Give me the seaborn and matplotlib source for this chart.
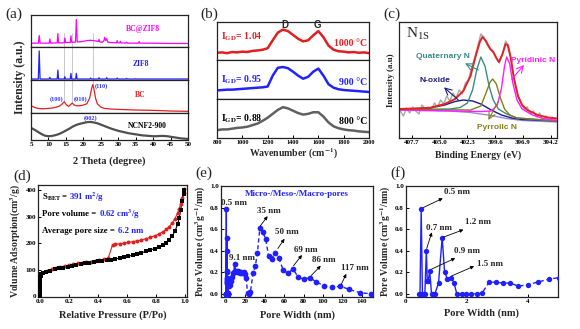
import matplotlib
matplotlib.use("Agg")
import matplotlib.pyplot as plt
import seaborn as sns

# ---------------- (a) XRD (intensity normalised inside each stacked band) ----------------
ncnf_x = [5, 6, 7, 8, 9, 10, 11, 12, 13, 14, 15, 16, 17, 18, 19, 20, 21, 22, 23, 24, 25, 26, 27,
          28, 29, 30, 31, 32, 33, 34, 35, 36, 37, 38, 39, 40, 41, 42, 43, 44, 45, 46, 47, 48, 49, 50]
ncnf_y = [0.45, 0.38, 0.30, 0.22, 0.16, 0.14, 0.15, 0.18, 0.22, 0.28, 0.35, 0.42, 0.50, 0.56, 0.60,
          0.63, 0.66, 0.67, 0.65, 0.62, 0.57, 0.52, 0.47, 0.42, 0.38, 0.34, 0.31, 0.28, 0.25, 0.23,
          0.21, 0.19, 0.17, 0.16, 0.15, 0.14, 0.14, 0.15, 0.15, 0.14, 0.12, 0.10, 0.08, 0.06, 0.05, 0.04]
bc_x = [5, 6, 7, 8, 9, 10, 11, 12, 13, 13.8, 14.5, 15.2, 15.8, 16.3, 16.8, 17.4, 18, 19, 20, 21,
        21.8, 22.4, 22.7, 23.0, 23.5, 24, 25, 26, 28, 30, 35, 40, 45, 50]
bc_y = [0.22, 0.17, 0.14, 0.13, 0.13, 0.14, 0.15, 0.17, 0.20, 0.26, 0.34, 0.24, 0.20, 0.25, 0.30,
        0.24, 0.22, 0.22, 0.24, 0.28, 0.45, 0.75, 0.86, 0.75, 0.45, 0.28, 0.18, 0.14, 0.12, 0.11,
        0.09, 0.08, 0.06, 0.05]
zif_x = [5, 7.1, 7.35, 7.6, 10.2, 10.4, 10.6, 12.5, 12.7, 12.9, 14.5, 14.7, 14.9, 16.25, 16.45,
         16.65, 17.8, 18.0, 18.2, 21.9, 22.1, 22.3, 24.3, 24.5, 24.7, 26.5, 26.7, 26.9, 29.5, 29.7,
         29.9, 32.2, 32.4, 32.6, 34.8, 35.0, 35.2, 50]
zif_y = [0.03, 0.03, 0.88, 0.03, 0.03, 0.08, 0.03, 0.03, 0.30, 0.03, 0.03, 0.10, 0.03, 0.03, 0.20,
         0.03, 0.03, 0.20, 0.03, 0.03, 0.06, 0.03, 0.03, 0.07, 0.03, 0.03, 0.07, 0.03, 0.03, 0.06,
         0.03, 0.03, 0.05, 0.03, 0.03, 0.04, 0.03, 0.03]
bz_x = [5, 7.1, 7.35, 7.6, 10.2, 10.4, 10.6, 12.5, 12.7, 12.9, 14.5, 14.7, 14.9, 16.25, 16.45,
        16.65, 17.75, 18.0, 18.25, 19, 20, 21, 22, 23, 24.3, 24.5, 24.7, 25.5, 25.9, 26.1, 26.4,
        26.7, 27.0, 28, 29.5, 29.7, 29.9, 30.4, 30.6, 30.8, 32.2, 32.4, 32.6, 35.8, 36.0, 36.2,
        40, 45, 50]
bz_y = [0.12, 0.12, 0.36, 0.12, 0.12, 0.25, 0.12, 0.13, 0.42, 0.13, 0.13, 0.28, 0.14, 0.14, 0.35,
        0.15, 0.15, 0.86, 0.16, 0.16, 0.18, 0.20, 0.21, 0.20, 0.17, 0.24, 0.16, 0.15, 0.20, 0.30,
        0.20, 0.26, 0.15, 0.14, 0.13, 0.20, 0.13, 0.13, 0.18, 0.13, 0.12, 0.15, 0.12, 0.12, 0.17,
        0.12, 0.12, 0.11, 0.11]
xrd_labels = ["BC@ZIF8", "ZIF8", "BC", "NCNF2-900"]
xrd_ticks = [5, 10, 15, 20, 25, 30, 35, 40, 45, 50]

# ---------------- (b) Raman ----------------
raman_x = [800, 840, 880, 920, 960, 1000, 1040, 1080, 1120, 1160, 1200, 1240, 1280, 1320, 1360,
           1400, 1440, 1480, 1520, 1560, 1600, 1640, 1680, 1720, 1760, 1800, 1840, 1880, 1920,
           1960, 2000]
raman_1000 = [0.19, 0.20, 0.18, 0.21, 0.20, 0.22, 0.21, 0.24, 0.25, 0.27, 0.31, 0.52, 0.72, 0.80,
              0.76, 0.66, 0.56, 0.49, 0.52, 0.65, 0.76, 0.60, 0.38, 0.27, 0.23, 0.22, 0.20, 0.21,
              0.19, 0.20, 0.18]
raman_900 = [0.22, 0.23, 0.24, 0.24, 0.25, 0.26, 0.27, 0.28, 0.29, 0.30, 0.32, 0.60, 0.80, 0.82,
             0.79, 0.70, 0.60, 0.52, 0.57, 0.70, 0.78, 0.60, 0.38, 0.29, 0.25, 0.23, 0.22, 0.21,
             0.20, 0.19, 0.18]
raman_800 = [0.20, 0.22, 0.22, 0.24, 0.26, 0.27, 0.29, 0.33, 0.37, 0.44, 0.52, 0.62, 0.72, 0.79,
             0.76, 0.70, 0.64, 0.60, 0.62, 0.66, 0.66, 0.55, 0.40, 0.30, 0.25, 0.22, 0.20, 0.19,
             0.17, 0.16, 0.15]
raman_ticks = [800, 1000, 1200, 1400, 1600, 1800, 2000]

# ---------------- (c) XPS N1s ----------------
xps_raw_x = [408.8, 408.5, 408.2, 407.9, 407.6, 407.3, 407.0, 406.7, 406.4, 406.1, 405.8, 405.5,
             405.2, 404.9, 404.6, 404.3, 404.0, 403.7, 403.4, 403.1, 402.8, 402.5, 402.2, 401.9,
             401.6, 401.3, 401.0, 400.7, 400.4, 400.1, 399.8, 399.5, 399.2, 398.9, 398.6, 398.3,
             398.0, 397.7, 397.4, 397.1, 396.8, 396.5, 396.2, 395.9, 395.6, 395.3, 395.0, 394.7,
             394.4, 394.1, 393.8]
xps_raw_y = [27, 22, 30, 25, 31, 27, 24, 33, 29, 31, 28, 35, 31, 38, 34, 42, 37, 45, 40, 48, 44, 55,
             58, 70, 80, 92, 104, 101, 93, 90, 87, 80, 75, 84, 97, 92, 74, 55, 42, 35, 29, 31, 24,
             27, 21, 25, 18, 22, 17, 21, 18]
env_x = [408.9, 406.0, 404.5, 403.5, 402.7, 402.0, 401.5, 401.1, 400.85, 400.5, 400.1, 399.8, 399.5,
         399.25, 398.9, 398.6, 398.4, 398.1, 397.8, 397.4, 397.0, 396.5, 395.5, 394.5, 393.6]
env_y = [29, 30, 34, 39, 47, 62, 82, 96, 101, 97, 89, 86, 80, 76, 84, 94, 93, 80, 60, 42, 33, 28, 23,
         20.5, 19.5]
bg_x = [408.9, 404.0, 402.0, 400.0, 398.5, 397.0, 393.6]
bg_y = [28.0, 27.0, 25.5, 22.5, 19.5, 17.5, 16.0]
nox_x = [408.9, 406.0, 404.5, 403.5, 402.7, 401.8, 401.0, 400.0, 399.0, 398.0, 397.0, 393.6]
nox_y = [28.7, 30, 33, 36.5, 38, 37, 34, 28, 23, 20, 18.5, 17]
quat_x = [408.9, 404.0, 403.0, 402.3, 401.8, 401.4, 401.0, 400.6, 400.2, 399.8, 399.3, 398.5, 397.5,
          393.6]
quat_y = [28.5, 29, 30.5, 35, 48, 68, 81, 72, 52, 38, 29, 24, 20, 17]
pyrr_x = [408.9, 402.0, 401.0, 400.5, 400.1, 399.85, 399.5, 399.1, 398.7, 398.2, 397.5, 393.6]
pyrr_y = [28.5, 28, 32, 45, 56, 59, 54, 40, 29, 23, 20, 17]
pyri_x = [408.9, 401.0, 400.0, 399.4, 399.0, 398.7, 398.5, 398.2, 397.9, 397.5, 397.0, 396.0, 395.0,
          393.6]
pyri_y = [28, 26.5, 27, 33, 50, 72, 81, 74, 55, 38, 29, 23, 19.5, 17.5]
xps_ticks = [407.7, 405.0, 402.3, 399.6, 396.9, 394.2]

# ---------------- (d) N2 isotherm ----------------
ads_p = [0.002, 0.002, 0.002, 0.002, 0.002, 0.002, 0.002, 0.002, 0.003, 0.004, 0.006, 0.01, 0.02,
         0.04, 0.07, 0.10, 0.13, 0.16, 0.19, 0.22, 0.25, 0.28, 0.31, 0.34, 0.37, 0.40, 0.43, 0.46,
         0.49, 0.52, 0.55, 0.58, 0.61, 0.64, 0.67, 0.70, 0.73, 0.76, 0.79, 0.82, 0.85, 0.87, 0.89,
         0.91, 0.93, 0.95, 0.96, 0.97, 0.98, 0.99, 0.995]
ads_v = [0, 10, 20, 30, 40, 50, 60, 68, 74, 78, 81, 84, 88, 92, 97, 101, 105, 108, 112, 115, 118,
         121, 124, 127, 130, 132, 134, 136, 138, 141, 144, 147, 151, 155, 159, 164, 169, 174, 180,
         187, 195, 202, 212, 226, 245, 272, 295, 325, 358, 385, 403]
des_p = [0.995, 0.99, 0.98, 0.97, 0.96, 0.95, 0.93, 0.91, 0.89, 0.87, 0.85, 0.82, 0.79, 0.76, 0.73,
         0.70, 0.67, 0.64, 0.61, 0.58, 0.55, 0.52, 0.50, 0.47, 0.44, 0.41, 0.38, 0.35, 0.32, 0.29,
         0.26, 0.23, 0.20, 0.17, 0.14, 0.11, 0.08, 0.05]
des_v = [405, 390, 370, 348, 330, 315, 292, 275, 262, 252, 244, 235, 228, 222, 217, 213, 209, 206,
         203, 200, 198, 196, 194, 143, 139, 136, 133, 131, 129, 127, 124, 121, 118, 114, 111, 107,
         103, 97]

# ---------------- (e)/(f) pore size distribution ----------------
f_width = [0.42, 0.46, 0.50, 0.54, 0.58, 0.62, 0.67, 0.70, 0.73, 0.78, 0.84, 0.89, 0.95, 1.07, 1.19,
           1.27, 1.36, 1.49, 1.58, 1.67, 1.83, 1.98, 2.15, 2.33, 2.50, 2.74, 2.97, 3.20, 3.43, 3.70,
           4.02, 4.35, 4.70, 5.03]
f_vol = [0.0, 0.0, 0.79, 0.0, 0.0, 0.0, 0.40, 0.12, 0.12, 0.21, 0.0, 0.0, 0.0, 0.10, 0.52, 0.20,
         0.14, 0.15, 0.10, 0.0, 0.0, 0.0, 0.0, 0.0, 0.005, 0.11, 0.105, 0.10, 0.10, 0.07, 0.085, 0.11,
         0.135, 0.15]
e_width_ext = [5.6, 6.3, 7.2, 8.1, 9.1, 10.1, 11.2, 12.3, 13.4, 14.6, 15.8, 17.0, 18.3, 19.6, 20.9,
               22.3, 23.8, 25.3, 28.0, 30.4, 32.5, 35.0, 38.0, 41.0, 44.0, 47.0, 50.5, 54.5, 59.0,
               64.0, 69.0, 74.5, 80.0, 86.5, 93.0, 101.0, 109.0, 118.0, 127.0, 138.0, 149.0]
e_vol_ext = [0.12, 0.16, 0.19, 0.20, 0.28, 0.21, 0.20, 0.21, 0.20, 0.19, 0.20, 0.19, 0.20, 0.18, 0.15,
             0.01, 0.0, 0.02, 0.19, 0.26, 0.38, 0.61, 0.57, 0.51, 0.35, 0.32, 0.38, 0.33, 0.22, 0.19,
             0.23, 0.155, 0.135, 0.15, 0.11, 0.075, 0.06, 0.07, 0.04, 0.01, 0.0]
e_width = f_width + e_width_ext
e_vol = f_vol + e_vol_ext

# ---------------- style ----------------
sns.set_theme(style="ticks")
plt.rcParams['font.family'] = ['Liberation Serif', 'DejaVu Serif']
plt.rcParams['font.weight'] = 'bold'
plt.rcParams['axes.labelweight'] = 'bold'
plt.rcParams['mathtext.fontset'] = 'stix'
plt.rcParams['mathtext.default'] = 'bf'
plt.rcParams['axes.edgecolor'] = '#222222'
plt.rcParams['axes.linewidth'] = 0.9

W, H = 580, 329
fig = plt.figure(figsize=(W / 100, H / 100), dpi=100)
fig.patch.set_facecolor('white')


def add_ax(box):
    l, t, r, b = box
    ax = fig.add_axes([l / W, 1 - b / H, (r - l) / W, (b - t) / H])
    ax.tick_params(direction='in', length=2.5, width=0.7, labelsize=5, pad=1.5, colors='black')
    return ax


def ftext(x, y, s, **kw):
    fig.text(x / W, 1 - y / H, s, **kw)


def line(ax, x, y, color, lw=1.0, ls='-'):
    sns.lineplot(x=x, y=y, ax=ax, color=color, lw=lw, linestyle=ls, sort=False,
                 estimator=None, legend=False)


def pts(ax, x, y, color, marker, s):
    sns.scatterplot(x=x, y=y, ax=ax, color=color, marker=marker, s=s, linewidth=0, legend=False,
                    zorder=3)


def xlab(ax, box, s, ypx, fs):
    l, t, r, b = box
    ax.set_xlabel(s, fontsize=fs, fontweight='bold')
    ax.xaxis.label.set_va('center')
    ax.xaxis.set_label_coords(0.5, (b - ypx) / (b - t))


def ylab(ax, box, s, xpx, fs, ypx=None):
    l, t, r, b = box
    ax.set_ylabel(s, fontsize=fs, fontweight='bold')
    ax.yaxis.label.set_va('center')
    ax.yaxis.label.set_ha('center')
    yf = 0.5 if ypx is None else (b - ypx) / (b - t)
    ax.yaxis.set_label_coords((xpx - l) / (r - l), yf)


# ================= (a) =================
a_edges = [15, 47, 80, 113, 140]
a_data = [(bz_x, bz_y, '#ff00ff'), (zif_x, zif_y, '#2222ff'), (bc_x, bc_y, '#e02020'),
          (ncnf_x, ncnf_y, '#505050')]
a_lab_pos = [(37.1, 0.56), (36.6, 0.48), (36.3, 0.54), (38.3, 0.53)]
a_axes = []
for i, (x, y, c) in enumerate(a_data):
    box = (31, a_edges[i], 188, a_edges[i + 1])
    ax = add_ax(box)
    ax.set_xlim(5, 50)
    ax.set_ylim(0, 1)
    ax.set_yticks([])
    if i < 3:
        ax.set_xticks([])
    else:
        ax.set_xticks(xrd_ticks)
        ax.set_xticklabels([str(v) for v in xrd_ticks])
        xlab(ax, box, "2 Theta (degree)", 161, 7.5)
        ylab(ax, box, "Intensity (a.u.)", 20, 8.5, ypx=77)
    lc = 'black' if c == '#505050' else c
    ax.text(a_lab_pos[i][0], a_lab_pos[i][1], xrd_labels[i], color=lc, fontsize=5.5,
            ha='center', va='center', fontweight='bold')
    a_axes.append(ax)
# faint guide lines
for xv in [14.5, 16.8, 22.7]:
    a_axes[0].axvline(xv, 0, 0.45, color='#c8c8c8', lw=0.7, zorder=0)
    a_axes[1].axvline(xv, 0, 1, color='#c8c8c8', lw=0.7, zorder=0)
a_axes[2].axvline(14.5, 0.34, 1, color='#c8c8c8', lw=0.7, zorder=0)
a_axes[2].axvline(16.8, 0.30, 1, color='#c8c8c8', lw=0.7, zorder=0)
a_axes[2].axvline(22.7, 0.86, 1, color='#c8c8c8', lw=0.7, zorder=0)
for i, (x, y, c) in enumerate(a_data):
    line(a_axes[i], x, y, c, lw=1.6 if i == 3 else 0.9)
a_axes[2].text(12.3, 0.41, "(100)", color='#3333ff', fontsize=4.5, ha='center', va='center')
a_axes[2].text(19.3, 0.41, "(010)", color='#3333ff', fontsize=4.5, ha='center', va='center')
a_axes[2].text(25.2, 0.82, "(110)", color='#3333ff', fontsize=4.5, ha='center', va='center')
a_axes[3].text(22.0, 0.82, "(002)", color='#3333ff', fontsize=4.5, ha='center', va='center')

# ================= (b) =================
b_edges = [22, 60, 99, 138]
b_data = [(raman_1000, '#e02020', "1.04", "1000 °C"),
          (raman_900, '#2222ff', "0.95", "900 °C"),
          (raman_800, '#606060', "0.88", "800 °C")]
b_lab_y = [(0.61, 0.44), (0.50, 0.42), (0.50, 0.42)]
for i, (y, c, igd, temp) in enumerate(b_data):
    box = (217, b_edges[i], 369, b_edges[i + 1])
    ax = add_ax(box)
    ax.set_xlim(800, 2000)
    ax.set_ylim(0, 1)
    ax.set_yticks([])
    line(ax, raman_x, y, c, lw=1.8)
    tc = 'black' if i == 2 else c
    ax.text(830, b_lab_y[i][0], "I$_{GD}$= " + igd, color=tc, fontsize=7, ha='left', va='center')
    ax.text(1985, b_lab_y[i][1], temp, color=tc, fontsize=7, ha='right', va='center',
            fontweight='bold')
    if i == 0:
        ax.text(1334, 0.92, "D", fontsize=7, ha='center', va='center', fontfamily='Liberation Sans')
        ax.text(1593, 0.92, "G", fontsize=7, ha='center', va='center', fontfamily='Liberation Sans')
    if i < 2:
        ax.set_xticks([])
    else:
        ax.set_xticks(raman_ticks)
        ax.set_xticklabels([str(v) for v in raman_ticks], fontsize=4.5)
        xlab(ax, box, "Wavenumber (cm$^{-1}$)", 154, 7)
        ylab(ax, box, "Intensity (a.u.)", 210, 6, ypx=84)

# ================= (c) =================
box_c = (399, 22, 557, 138)
axc = add_ax(box_c)
line(axc, xps_raw_x, xps_raw_y, '#a8a8a8', lw=1.0)
line(axc, bg_x, bg_y, '#9a86e8', lw=1.0)
line(axc, nox_x, nox_y, '#1c1c80', lw=1.0)
line(axc, quat_x, quat_y, '#3a8a8a', lw=1.0)
line(axc, pyrr_x, pyrr_y, '#808018', lw=1.0)
line(axc, pyri_x, pyri_y, '#ff1cff', lw=1.0)
line(axc, env_x, env_y, '#e52222', lw=1.4)
axc.set_xlim(408.93, 393.62)
axc.set_ylim(0, 116)
axc.set_yticks([])
axc.set_xticks(xps_ticks)
axc.set_xticklabels([f"{v:.1f}" for v in xps_ticks])
xlab(axc, box_c, "Binding Energy (eV)", 155, 7)
ylab(axc, box_c, "Intensity (a.u)", 391, 6.5)
axc.text(0.045, 0.9, r"$\mathregular{N_{1S}}$", transform=axc.transAxes, fontsize=11,
         fontweight='normal', ha='left', va='center')
c_ann = [("Quaternary N", '#3a8a8a', (404.64, 81.3), (401.25, 68), (402.53, 74.7)),
         ("N-oxide", '#1c1c80', (405.44, 57.7), (403.18, 38), (404.57, 50.7)),
         ("Pyridinic N", '#ff1cff', (395.92, 78), (398.01, 58.7), (396.82, 73)),
         ("Pyrroilc N", '#808018', (399.46, 10.7), (399.31, 36.3), (400.28, 18))]
for s, c, tp, tail, head in c_ann:
    axc.text(tp[0], tp[1], s, color=c, fontsize=6, ha='center', va='center',
             fontfamily='Liberation Sans', fontweight='bold')
    axc.annotate("", xy=head, xytext=tail,
                 arrowprops=dict(arrowstyle='->', color=c, lw=0.8, shrinkA=0, shrinkB=0))

# ================= (d) =================
box_d = (38, 185, 187, 297)
axd = add_ax(box_d)
line(axd, des_p, des_v, '#e02020', lw=0.8)
line(axd, ads_p, ads_v, 'black', lw=0.8)
pts(axd, des_p, des_v, '#e02020', 'o', 8)
pts(axd, ads_p, ads_v, 'black', 's', 7)
axd.set_xlim(-0.014, 1.014)
axd.set_ylim(-3, 420)
axd.set_xticks([0, 0.2, 0.4, 0.6, 0.8, 1.0])
axd.set_xticklabels(["0.0", "0.2", "0.4", "0.6", "0.8", "1.0"])
axd.set_yticks([0, 100, 200, 300, 400])
xlab(axd, box_d, "Relative Pressure (P/Po)", 315, 7.5)
ylab(axd, box_d, "Volume Adsorption(cm$^3$/g)", 16, 7)
d_txt = [(0.89, r"S$_{BET}$ = ", r"391 m$^{2}$/g"),
         (0.74, "Pore volume = ", r"0.62 cm$^{3}$/g"),
         (0.59, "Average pore size = ", "6.2 nm")]
fig.canvas.draw()
for yy, blk, blu in d_txt:
    t = axd.text(0.03, yy, blk, transform=axd.transAxes, fontsize=6.3, ha='left', va='center',
                 color='black')
    axd.annotate(blu, xy=(1, 0.5), xycoords=t, fontsize=6.3, ha='left', va='center',
                 color='#2222ff')

# ================= (e) =================
box_e = (221, 186, 373, 297)
axe = add_ax(box_e)
split_e = 48
line(axe, e_width[:split_e + 1], e_vol[:split_e + 1], '#1f1fff', lw=1.0)
line(axe, e_width[split_e:], e_vol[split_e:], '#1f1fff', lw=1.0, ls=(0, (3, 2)))
pts(axe, e_width, e_vol, '#1f1fff', 'o', 17)
axe.set_xlim(-5, 151.5)
axe.set_ylim(-0.03, 1.0)
axe.set_xticks([0, 20, 40, 60, 80, 100, 120, 140])
axe.set_yticks([0.0, 0.2, 0.4, 0.6, 0.8, 1.0])
axe.set_yticklabels(["0.0", "0.2", "0.4", "0.6", "0.8", "1.0"])
xlab(axe, box_e, "Pore Width (nm)", 315, 7.5)
ylab(axe, box_e, "Pore Volume (cm$^3$g$^{-1}$/nm)", 201, 7)
axe.text(0.5, 0.93, "Micro-/Meso-/Macro-pores", transform=axe.transAxes, color='#2222ff',
         fontsize=6.5, ha='center', va='center')
axe.text(-4.5, 0.84, "0.5 nm", fontsize=6.5, ha='left', va='center')
axe.text(3.4, 0.33, "9.1 nm", fontsize=6.5, ha='left', va='center')
e_ann = [("35 nm", (44, 0.77), (35.5, 0.63), (43, 0.72)),
         ("50 nm", (62.5, 0.57), (53.5, 0.42), (60.4, 0.51)),
         ("69 nm", (82, 0.41), (69.7, 0.26), (78.4, 0.36)),
         ("86 nm", (100.8, 0.315), (88, 0.17), (97.7, 0.26)),
         ("117 nm", (133, 0.24), (119, 0.09), (124, 0.185))]
for s, tp, tail, head in e_ann:
    axe.text(tp[0], tp[1], s, fontsize=6.5, ha='center', va='center')
    axe.annotate("", xy=head, xytext=tail,
                 arrowprops=dict(arrowstyle='-|>', color='black', lw=0.6, mutation_scale=5,
                                 shrinkA=0, shrinkB=0))

# ================= (f) =================
box_f = (406, 186, 558, 297)
axf = add_ax(box_f)
split_f = 19
line(axf, f_width[:split_f + 1], f_vol[:split_f + 1], '#1f1fff', lw=1.0)
line(axf, f_width[split_f:], f_vol[split_f:], '#1f1fff', lw=1.0, ls=(0, (3, 2)))
pts(axf, f_width, f_vol, '#1f1fff', 'o', 15)
axf.set_xlim(0, 5)
axf.set_ylim(-0.03, 1.0)
axf.set_xticks([0, 2, 4])
axf.set_yticks([0.0, 0.2, 0.4, 0.6, 0.8, 1.0])
axf.set_yticklabels(["0.0", "0.2", "0.4", "0.6", "0.8", "1.0"])
xlab(axf, box_f, "Pore Width (nm)", 313, 7.5)
ylab(axf, box_f, "Pore Volume (cm$^3$g$^{-1}$/nm)", 386, 7)
f_ann = [("0.5 nm", (1.67, 0.94), (0.57, 0.80), (1.21, 0.886)),
         ("0.7 nm", (1.08, 0.61), (0.68, 0.42), (0.85, 0.57)),
         ("1.2 nm", (2.36, 0.67), (1.23, 0.525), (1.89, 0.595)),
         ("0.9 nm", (2.0, 0.40), (0.85, 0.23), (1.62, 0.33)),
         ("1.5 nm", (2.77, 0.28), (1.5, 0.165), (2.24, 0.256))]
for s, tp, tail, head in f_ann:
    axf.text(tp[0], tp[1], s, fontsize=6.5, ha='center', va='center')
    axf.annotate("", xy=head, xytext=tail,
                 arrowprops=dict(arrowstyle='-|>', color='black', lw=0.6, mutation_scale=5,
                                 shrinkA=0, shrinkB=0))

# panel letters
for s, x, y in [("(a)", 5, 14), ("(b)", 200, 14), ("(c)", 383, 14), ("(d)", 13, 176),
                ("(e)", 195, 173), ("(f)", 390, 173)]:
    ftext(x, y, s, fontsize=11, fontweight='normal', ha='left', va='center')

fig.savefig("out.png", dpi=100, facecolor='white')
